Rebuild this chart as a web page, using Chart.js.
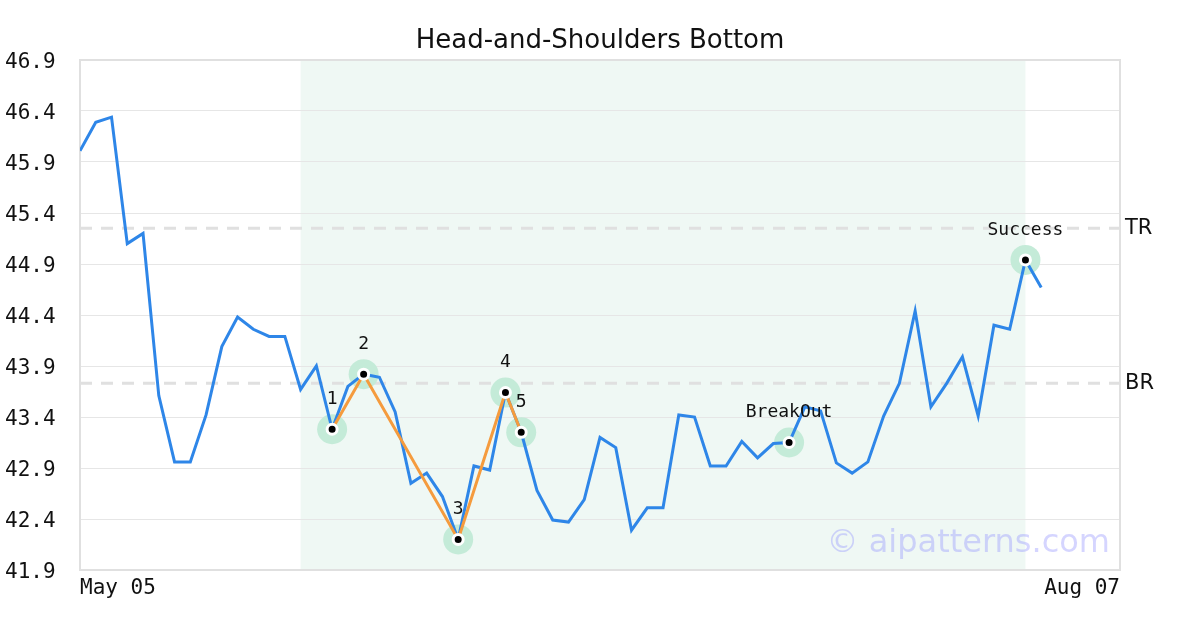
<!DOCTYPE html>
<html>
<head>
<meta charset="utf-8">
<script src="https://cdn.jsdelivr.net/npm/chart.js@4/dist/chart.umd.min.js"></script>
<style>
  body { margin: 0; background: #fff; }
  canvas { display: block; }
</style>
</head>
<body>
<canvas id="grafico" width="1200" height="630"></canvas>
<script>
// price series, one value per trading day (index 0 = May 05)
const price = [
  46.01, 46.29, 46.34, 45.10, 45.20, 43.61, 42.96, 42.96, 43.42, 44.09,
  44.38, 44.26, 44.19, 44.19, 43.67, 43.90, 43.28, 43.70, 43.82, 43.79,
  43.45, 42.75, 42.85, 42.62, 42.20, 42.92, 42.88, 43.64, 43.25, 42.68,
  42.39, 42.37, 42.59, 43.20, 43.10, 42.29, 42.51, 42.51, 43.42, 43.40,
  42.92, 42.92, 43.16, 43.00, 43.14, 43.15, 43.50, 43.46, 42.95, 42.85,
  42.96, 43.41, 43.73, 44.44, 43.50, 43.73, 43.99, 43.41, 44.30, 44.26,
  44.94, 44.67
];

// pattern pivots (1..5)
const patternIdx = [16, 18, 24, 27, 28];

// marked points and their labels
const markerIdx = [16, 18, 24, 27, 28, 45, 60];
const markerText = ['1', '2', '3', '4', '5', 'BreakOut', 'Success'];

// levels
const trLevel = 45.25;
const brLevel = 43.73;

// shaded pattern window
const shadeFrom = 14;
const shadeTo = 60;

// axes
const xMax = 66;
const xTickPos = [0, 66];
const xTickText = ['May 05', 'Aug 07'];
const yTicks = [41.9, 42.4, 42.9, 43.4, 43.9, 44.4, 44.9, 45.4, 45.9, 46.4, 46.9];

const MONO = '"DejaVu Sans Mono", monospace';
const SANS = '"DejaVu Sans", sans-serif';

const pontos = (idx) => idx.map(i => ({ x: i, y: price[i] }));

const desenhos = {
  id: 'desenhos',
  beforeDraw(chart) {
    const { ctx, chartArea: a, scales: { x } } = chart;
    ctx.save();
    ctx.fillStyle = '#eff8f4';
    const x0 = x.getPixelForValue(shadeFrom);
    const x1 = x.getPixelForValue(shadeTo);
    ctx.fillRect(x0, a.top, x1 - x0, a.bottom - a.top);
    ctx.restore();
  },
  beforeDatasetsDraw(chart) {
    const { ctx, chartArea: a, scales: { y } } = chart;
    ctx.save();
    // TR / BR dashed lines
    ctx.strokeStyle = '#e0e0e0';
    ctx.lineWidth = 3;
    ctx.setLineDash([12, 9]);
    [trLevel, brLevel].forEach(v => {
      const py = y.getPixelForValue(v);
      ctx.beginPath();
      ctx.moveTo(a.left, py);
      ctx.lineTo(a.right, py);
      ctx.stroke();
    });
    ctx.setLineDash([]);
    // plot border
    ctx.strokeStyle = '#e0e0e0';
    ctx.lineWidth = 2;
    ctx.strokeRect(a.left, a.top, a.right - a.left, a.bottom - a.top);
    ctx.restore();
  },
  afterDraw(chart) {
    const { ctx, chartArea: a, scales: { x, y } } = chart;
    ctx.save();
    // title
    ctx.fillStyle = '#111';
    ctx.font = '26px ' + SANS;
    ctx.textAlign = 'center';
    ctx.textBaseline = 'middle';
    ctx.fillText('Head-and-Shoulders Bottom', 600, 41);

    // TR / BR labels
    ctx.font = '21px ' + SANS;
    ctx.textAlign = 'left';
    ctx.fillText('TR', a.right + 5, y.getPixelForValue(trLevel));
    ctx.fillText('BR', a.right + 5, y.getPixelForValue(brLevel));

    // marker labels
    ctx.font = '18px ' + MONO;
    ctx.textAlign = 'center';
    markerIdx.forEach((i, k) => {
      ctx.fillText(markerText[k], x.getPixelForValue(i), y.getPixelForValue(price[i]) - 30);
    });

    // watermark
    ctx.font = '32px ' + SANS;
    ctx.fillStyle = 'rgba(150,150,255,0.4)';
    ctx.textAlign = 'right';
    ctx.fillText('\u00a9 aipatterns.com', a.right - 10, 544);
    ctx.restore();
  }
};

new Chart(document.getElementById('grafico'), {
  type: 'line',
  data: {
    datasets: [
      {
        label: 'pontos',
        data: pontos(markerIdx),
        showLine: false,
        pointRadius: 5,
        pointBackgroundColor: '#000',
        pointBorderColor: '#fff',
        pointBorderWidth: 3,
        order: 0
      },
      {
        label: 'padrão',
        data: pontos(patternIdx),
        borderColor: '#f59b3d',
        borderWidth: 3,
        pointRadius: 0,
        tension: 0,
        order: 1
      },
      {
        label: 'preço',
        data: price.map((v, i) => ({ x: i, y: v })),
        borderColor: '#2e86e8',
        borderWidth: 3,
        pointRadius: 0,
        tension: 0,
        order: 2
      },
      {
        label: 'halo',
        data: pontos(markerIdx),
        showLine: false,
        pointRadius: 15,
        pointBackgroundColor: '#c4ebd8',
        pointBorderWidth: 0,
        order: 3
      }
    ]
  },
  options: {
    responsive: false,
    animation: false,
    devicePixelRatio: 1,
    layout: { padding: { top: 60, left: 5, right: 80, bottom: 0 } },
    plugins: {
      legend: { display: false },
      title: { display: false },
      tooltip: { enabled: false }
    },
    scales: {
      x: {
        type: 'linear',
        min: 0,
        max: xMax,
        afterFit: s => { s.height = 60; },
        afterBuildTicks: s => { s.ticks = xTickPos.map(v => ({ value: v })); },
        grid: { display: false, drawTicks: false },
        border: { display: false },
        ticks: {
          align: 'inner',
          maxRotation: 0,
          autoSkip: false,
          padding: 6,
          color: '#111',
          font: { family: MONO, size: 21 },
          callback: v => xTickText[xTickPos.indexOf(v)]
        }
      },
      y: {
        min: 41.9,
        max: 46.9,
        afterFit: s => { s.width = 75; },
        afterBuildTicks: s => { s.ticks = yTicks.map(v => ({ value: v })); },
        grid: { color: '#e6e6e6', lineWidth: 1, drawTicks: false },
        border: { display: false },
        ticks: {
          crossAlign: 'far',
          labelOffset: 3,
          color: '#111',
          font: { family: MONO, size: 21 },
          callback: v => v.toFixed(1)
        }
      }
    }
  },
  plugins: [desenhos]
});
</script>
</body>
</html>
